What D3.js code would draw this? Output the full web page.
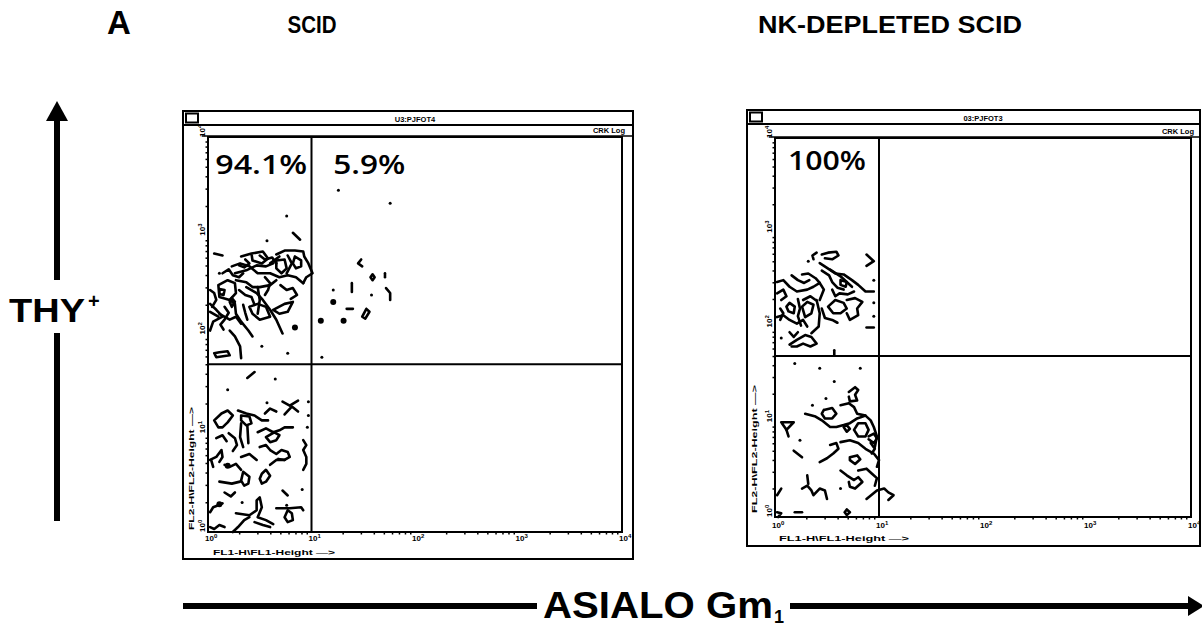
<!DOCTYPE html>
<html><head><meta charset="utf-8">
<script src="https://cdn.jsdelivr.net/npm/d3@7"></script>
<style>
body{margin:0;background:#fff;}
svg{display:block;}
</style></head><body>
<svg id="c" width="1202" height="629"></svg>
<script>
// ---------------- DATA (log10 units: FL1 = x, FL2 = y) ----------------
const panelTitles = ["SCID", "NK-DEPLETED SCID"];
const windowTitles = ["U3:PJFOT4", "03:PJFOT3"];
const scidPercents = ["94.1%", "5.9%"];
const nkPercents = ["100%"];
const decadeTicks = [0, 1, 2, 3, 4];
const tickExponents = ["0", "1", "2", "3", "4"];
const quadrantGate = [1.0, 1.7];

const scidContours = [
 [[0.06,2.82],[0.14,2.80]],
 [[0.32,2.79],[0.42,2.82],[0.53,2.84],[0.58,2.77],[0.52,2.72],[0.43,2.75],[0.42,2.82]],
 [[0.66,2.81],[0.74,2.85],[0.84,2.85],[0.92,2.84],[0.93,2.79],[0.97,2.72],[1.01,2.62],[0.95,2.58],[0.92,2.52]],
 [[0.84,2.79],[0.90,2.75],[0.90,2.69],[0.85,2.67],[0.82,2.72],[0.84,2.79]],
 [[0.66,2.75],[0.74,2.76],[0.76,2.67],[0.71,2.62],[0.66,2.67],[0.66,2.75]],
 [[0.60,2.72],[0.69,2.79]],
 [[0.77,2.80],[0.81,2.72],[0.76,2.62]],
 [[0.23,2.69],[0.31,2.72],[0.40,2.69],[0.48,2.62],[0.60,2.62],[0.69,2.58],[0.77,2.60],[0.85,2.58],[0.92,2.52]],
 [[0.26,2.62],[0.37,2.65],[0.47,2.70],[0.56,2.69],[0.63,2.72]],
 [[0.10,2.50],[0.19,2.55],[0.26,2.52],[0.27,2.42],[0.21,2.35],[0.11,2.38],[0.10,2.50]],
 [[0.11,2.46],[0.16,2.45],[0.15,2.40],[0.11,2.41],[0.11,2.46]],
 [[0.27,2.55],[0.37,2.53],[0.43,2.48],[0.50,2.48],[0.60,2.50],[0.66,2.55]],
 [[0.02,2.31],[0.08,2.25],[0.14,2.18],[0.05,2.13],[0.02,2.04]],
 [[0.21,2.35],[0.26,2.31],[0.27,2.21],[0.32,2.13],[0.39,2.04],[0.43,1.98]],
 [[0.37,2.48],[0.47,2.42],[0.53,2.35],[0.60,2.25],[0.66,2.15],[0.72,2.01]],
 [[0.63,2.25],[0.74,2.31],[0.82,2.33],[0.77,2.23],[0.69,2.21],[0.63,2.25]],
 [[0.21,2.04],[0.26,1.98],[0.31,1.88],[0.32,1.76]],
 [[0.06,1.81],[0.11,1.82],[0.19,1.83],[0.21,1.79],[0.08,1.77],[0.06,1.81]],
 [[0.11,2.21],[0.21,2.15],[0.27,2.18],[0.32,2.11]],
 [[0.02,2.23],[0.10,2.18]],
 [[0.40,2.28],[0.48,2.31],[0.56,2.28],[0.60,2.18],[0.50,2.15],[0.43,2.21],[0.40,2.28]],
 [[0.48,2.48],[0.50,2.35],[0.48,2.21]],
 [[0.23,2.37],[0.26,2.33],[0.23,2.28],[0.21,2.33],[0.23,2.37]],
 [[0.14,2.62],[0.20,2.66],[0.24,2.60],[0.30,2.58],[0.34,2.62]],
 [[0.02,2.45],[0.06,2.42],[0.08,2.35],[0.04,2.28]],
 [[0.30,2.45],[0.36,2.40],[0.42,2.38],[0.45,2.30]],
 [[0.55,2.58],[0.60,2.52],[0.58,2.45],[0.55,2.40]],
 [[0.70,2.50],[0.76,2.45],[0.82,2.47],[0.86,2.40],[0.80,2.36]],
 [[0.16,2.28],[0.20,2.22],[0.16,2.15],[0.12,2.10],[0.15,2.05]],
 [[0.34,2.30],[0.36,2.22],[0.38,2.15]],
 [[0.50,2.80],[0.55,2.76],[0.62,2.78],[0.66,2.72]],
 [[0.36,2.76],[0.40,2.72],[0.35,2.68],[0.30,2.70]],
 [[0.82,3.03],[0.89,2.96]],
 [[1.48,2.76],[1.45,2.72],[1.49,2.69]],
 [[1.57,2.58],[1.59,2.61],[1.61,2.58],[1.59,2.55],[1.57,2.58]],
 [[1.71,2.62],[1.71,2.58]],
 [[1.39,2.52],[1.39,2.43]],
 [[1.72,2.47],[1.76,2.42],[1.76,2.35]],
 [[1.34,2.26],[1.40,2.26]],
 [[1.53,2.26],[1.56,2.23],[1.52,2.16],[1.49,2.18],[1.53,2.26]],
 [[0.38,1.56],[0.45,1.62]],
 [[0.72,1.32],[0.79,1.28],[0.87,1.33]],
 [[0.74,1.19],[0.81,1.27],[0.87,1.22]],
 [[0.06,1.13],[0.13,1.20],[0.19,1.23],[0.24,1.18],[0.19,1.11],[0.14,1.06],[0.10,1.06],[0.06,1.13]],
 [[0.29,1.23],[0.37,1.20],[0.45,1.18],[0.52,1.13],[0.58,1.13]],
 [[0.32,1.18],[0.40,1.17],[0.42,1.10],[0.37,1.08],[0.32,1.13],[0.32,1.18]],
 [[0.32,1.10],[0.31,0.96],[0.34,0.86]],
 [[0.38,1.08],[0.39,0.90]],
 [[0.48,1.01],[0.56,1.05],[0.63,1.01],[0.69,1.03],[0.74,1.06],[0.82,1.06]],
 [[0.56,0.96],[0.60,0.91],[0.66,0.93],[0.69,0.98],[0.64,1.01],[0.56,0.96]],
 [[0.50,0.86],[0.56,0.88],[0.60,0.83],[0.66,0.79],[0.71,0.83],[0.77,0.81],[0.79,0.76],[0.74,0.73],[0.68,0.74]],
 [[0.92,0.93],[0.95,0.88],[0.92,0.83],[0.95,0.76],[0.95,0.69],[0.92,0.63]],
 [[0.02,0.73],[0.08,0.76],[0.13,0.83],[0.14,0.76],[0.11,0.71]],
 [[0.03,0.73],[0.05,0.66]],
 [[0.16,0.68],[0.21,0.66],[0.27,0.69],[0.32,0.63]],
 [[0.32,0.76],[0.40,0.79],[0.47,0.73]],
 [[0.34,0.61],[0.40,0.56],[0.39,0.49],[0.35,0.47],[0.32,0.52],[0.34,0.61]],
 [[0.11,0.51],[0.23,0.49],[0.31,0.51]],
 [[0.52,0.59],[0.56,0.63],[0.60,0.57],[0.56,0.51],[0.52,0.49],[0.50,0.54],[0.52,0.59]],
 [[0.60,0.68],[0.66,0.73],[0.74,0.73]],
 [[0.72,0.42],[0.77,0.37]],
 [[0.20,1.00],[0.26,0.95],[0.28,0.88],[0.24,0.82]],
 [[0.08,0.95],[0.14,0.98],[0.18,0.92]],
 [[0.16,0.40],[0.22,0.36],[0.26,0.40]],
 [[0.55,1.20],[0.60,1.25],[0.66,1.22]],
 [[0.02,0.20],[0.05,0.25],[0.10,0.27],[0.14,0.29]],
 [[0.27,0.19],[0.40,0.17],[0.47,0.22],[0.47,0.32],[0.50,0.35],[0.52,0.25],[0.48,0.15],[0.56,0.12],[0.63,0.08]],
 [[0.40,0.15],[0.35,0.12],[0.29,0.05],[0.24,0.00]],
 [[0.45,0.10],[0.53,0.07],[0.60,0.05]],
 [[0.66,0.24],[0.79,0.24],[0.90,0.25],[0.92,0.22]],
 [[0.77,0.22],[0.74,0.15],[0.77,0.10],[0.82,0.12],[0.81,0.19],[0.77,0.22]],
 [[0.02,0.05],[0.06,0.03],[0.11,0.07],[0.16,0.05]]
];
const scidEvents = [[0.11,2.62],[0.76,3.20],[0.57,2.95],[1.26,3.46],[1.76,3.33],[0.52,1.88],[0.77,1.81],[1.10,1.77],
 [1.21,2.45],[1.58,2.40],[0.65,1.55],[0.19,1.44],[0.57,1.31],[0.97,1.32],[0.97,1.18],[0.96,1.06],[0.91,0.43],[0.76,0.27],[0.33,0.30]];
const scidDense = [[1.21,2.33],[1.31,2.14],[1.09,2.14],[0.84,2.07],[0.19,0.67],[0.11,0.28]];

const nkContours = [
 [[0.40,2.79],[0.36,2.76],[0.37,2.72]],
 [[0.45,2.77],[0.51,2.79],[0.59,2.80],[0.61,2.76],[0.55,2.72],[0.48,2.73]],
 [[0.88,2.77],[0.95,2.70],[0.88,2.65]],
 [[0.43,2.68],[0.50,2.63],[0.58,2.57],[0.66,2.56],[0.74,2.50],[0.80,2.45],[0.87,2.38],[0.95,2.38]],
 [[0.53,2.61],[0.63,2.54],[0.69,2.48],[0.74,2.43]],
 [[0.63,2.50],[0.69,2.48],[0.68,2.43],[0.63,2.45],[0.63,2.50]],
 [[0.02,2.48],[0.08,2.50],[0.14,2.43],[0.21,2.38],[0.31,2.40],[0.37,2.43],[0.43,2.47]],
 [[0.26,2.56],[0.32,2.57],[0.39,2.52],[0.43,2.47],[0.47,2.40],[0.43,2.29]],
 [[0.02,2.36],[0.08,2.40],[0.11,2.33],[0.06,2.29]],
 [[0.11,2.22],[0.14,2.26],[0.19,2.22],[0.18,2.15],[0.13,2.17],[0.11,2.22]],
 [[0.26,2.22],[0.31,2.27],[0.37,2.24],[0.35,2.15],[0.29,2.11],[0.26,2.22]],
 [[0.27,2.29],[0.34,2.33],[0.39,2.29]],
 [[0.51,2.22],[0.58,2.29],[0.66,2.26],[0.69,2.20],[0.63,2.15],[0.56,2.15],[0.51,2.22]],
 [[0.69,2.29],[0.77,2.31],[0.84,2.27],[0.79,2.20],[0.80,2.13],[0.72,2.08],[0.69,2.15]],
 [[0.02,2.11],[0.08,2.13],[0.14,2.08],[0.21,2.04],[0.27,2.08],[0.31,2.01]],
 [[0.40,2.29],[0.43,2.15],[0.42,2.01],[0.35,1.94]],
 [[0.14,1.82],[0.21,1.87],[0.29,1.92],[0.35,1.90],[0.40,1.83],[0.34,1.80],[0.27,1.83],[0.21,1.80],[0.16,1.80]],
 [[0.16,2.55],[0.22,2.50],[0.28,2.47],[0.33,2.50]],
 [[0.05,2.20],[0.08,2.15],[0.05,2.08]],
 [[0.45,2.60],[0.52,2.55],[0.55,2.48],[0.60,2.42],[0.66,2.40]],
 [[0.22,2.30],[0.24,2.20],[0.22,2.12],[0.25,2.02]],
 [[0.55,2.40],[0.58,2.33],[0.62,2.36],[0.70,2.35],[0.76,2.38]],
 [[0.45,2.20],[0.48,2.10],[0.55,2.08],[0.60,2.05]],
 [[0.14,1.95],[0.18,1.90],[0.22,1.95]],
 [[0.88,2.00],[0.95,2.00]],
 [[0.57,1.76],[0.57,1.71]],
 [[0.71,1.32],[0.77,1.37],[0.80,1.34],[0.77,1.29],[0.79,1.23],[0.72,1.22],[0.71,1.27]],
 [[0.47,1.13],[0.55,1.15],[0.59,1.09],[0.55,1.04],[0.48,1.04],[0.45,1.09],[0.47,1.13]],
 [[0.29,1.09],[0.39,1.06],[0.45,1.02],[0.53,0.95],[0.59,0.95],[0.66,0.97],[0.72,0.99],[0.79,1.04],[0.87,1.07]],
 [[0.63,1.18],[0.71,1.20],[0.76,1.16],[0.79,1.09],[0.87,1.07],[0.92,1.02],[0.95,0.95],[0.98,0.85],[0.96,0.74]],
 [[0.76,0.92],[0.80,0.99],[0.87,0.99],[0.90,0.92],[0.87,0.85],[0.80,0.85],[0.76,0.92]],
 [[0.66,0.95],[0.69,0.97],[0.72,0.93],[0.69,0.90],[0.66,0.95]],
 [[0.06,1.00],[0.18,1.00],[0.11,0.92],[0.06,1.00]],
 [[0.11,0.92],[0.13,0.85]],
 [[0.18,0.70],[0.26,0.63]],
 [[0.53,0.76],[0.59,0.78],[0.61,0.72],[0.56,0.67],[0.50,0.62],[0.43,0.58]],
 [[0.63,0.79],[0.72,0.81],[0.80,0.78],[0.87,0.72],[0.95,0.67],[1.00,0.60],[0.98,0.53]],
 [[0.72,0.63],[0.79,0.65],[0.82,0.61],[0.77,0.56],[0.72,0.60],[0.72,0.63]],
 [[0.63,0.49],[0.69,0.44],[0.76,0.39],[0.80,0.42],[0.84,0.37],[0.77,0.30],[0.72,0.32],[0.71,0.37]],
 [[0.80,0.49],[0.88,0.51],[0.93,0.46],[0.98,0.41],[0.96,0.33]],
 [[0.31,0.44],[0.32,0.35]],
 [[0.26,0.30],[0.31,0.33],[0.35,0.28],[0.37,0.23],[0.43,0.30],[0.48,0.28],[0.50,0.19]],
 [[0.02,0.23],[0.06,0.30]],
 [[0.88,0.19],[0.98,0.28],[1.05,0.30],[1.09,0.26],[1.14,0.23],[1.09,0.18]],
 [[0.67,0.05],[0.69,0.08],[0.72,0.05],[0.69,0.02],[0.67,0.05]],
 [[0.19,0.05],[0.26,0.05]],
 [[0.02,0.05],[0.06,0.04],[0.03,0.00]],
 [[0.92,0.78],[0.96,0.72],[0.93,0.67]],
 [[0.90,0.85],[0.95,0.88],[0.98,0.83],[0.95,0.78],[0.90,0.82]]
];
const nkEvents = [[0.32,2.70],[0.06,1.89],[0.95,2.50],[0.95,2.26],[0.95,2.12],[0.19,1.62],[0.43,1.57],[0.82,1.57],
 [0.57,1.43],[0.49,1.25],[0.36,1.18],[0.24,0.81],[0.63,0.30]];
const nkDense = [];

// ---------------- LAYOUT ----------------
const svg = d3.select("#c");
const narrow = "'Liberation Sans Narrow','Arial Narrow','Liberation Sans',Arial,sans-serif";
const sans = "'Liberation Sans',Arial,Helvetica,sans-serif";

const panels = [
 {win:[183,111,633,559], plot:[208,137,622,532], title:windowTitles[0], contours:scidContours, events:scidEvents, dense:scidDense,
  pct:[{t:scidPercents[0], x:0.07, len:92}, {t:scidPercents[1], x:1.21, len:72}], pctDy:37,
  yLab:[194,530,123], xLab:[213,555,122], tickY:541},
 {win:[747,110,1200,546], plot:[775,138,1191,517], title:windowTitles[1], contours:nkContours, events:nkEvents, dense:nkDense,
  pct:[{t:nkPercents[0], x:0.125, len:78}], pctDy:32,
  yLab:[757,513,128], xLab:[779,541,130], tickY:528}
];

const minorTicks = d3.range(0,4).flatMap(d => d3.range(2,10).map(m => d + Math.log10(m)));

panels.forEach(p => {
  const [wx0, wy0, wx1, wy1] = p.win;
  const [px0, py0, px1, py1] = p.plot;
  const x = d3.scaleLinear().domain([0,4]).range([px0, px1]);
  const y = d3.scaleLinear().domain([0,4]).range([py1, py0]);
  const g = svg.append("g");

  // window frame
  g.append("rect").attr("x", wx0).attr("y", wy0).attr("width", wx1-wx0).attr("height", wy1-wy0)
    .attr("fill","none").attr("stroke","#000").attr("stroke-width",2);
  g.append("line").attr("x1", wx0).attr("x2", wx1).attr("y1", wy0+14).attr("y2", wy0+14)
    .attr("stroke","#000").attr("stroke-width",2);
  g.append("rect").attr("x", wx0+3).attr("y", wy0+2.5).attr("width", 12).attr("height", 9)
    .attr("fill","#fff").attr("stroke","#000").attr("stroke-width",2);
  g.append("text").attr("x", (px0+px1)/2).attr("y", wy0+10.5).attr("text-anchor","middle")
    .attr("font-family", sans).attr("font-weight","bold").attr("font-size",7.5).text(p.title);
  g.append("line").attr("x1", px0-6).attr("x2", wx1).attr("y1", py0-1).attr("y2", py0-1)
    .attr("stroke","#000").attr("stroke-width",1.5);
  g.append("text").attr("x", px1+3).attr("y", py0-4).attr("text-anchor","end")
    .attr("font-family", sans).attr("font-weight","bold").attr("font-size",7.5).text("CRK Log");

  // axes (minor ticks)
  g.append("g").attr("transform", `translate(${px0},0)`)
    .call(d3.axisLeft(y).tickValues(minorTicks).tickSize(2.5).tickFormat(""))
    .call(a => { a.select(".domain").remove(); a.selectAll("line").attr("stroke","#000").attr("stroke-width",1.5); });
  g.append("g").attr("transform", `translate(0,${py1})`)
    .call(d3.axisBottom(x).tickValues(minorTicks).tickSize(2.5).tickFormat(""))
    .call(a => { a.select(".domain").remove(); a.selectAll("line").attr("stroke","#000").attr("stroke-width",1.5); });

  // plot frame
  g.append("rect").attr("x", px0).attr("y", py0).attr("width", px1-px0).attr("height", py1-py0)
    .attr("fill","none").attr("stroke","#000").attr("stroke-width",2);

  // decade tick labels
  g.selectAll(".xt").data(decadeTicks).join("text")
    .attr("x", d => x(d)-3).attr("y", p.tickY)
    .attr("font-family", sans).attr("font-weight","bold").attr("font-size",8)
    .call(t => { t.append("tspan").text("10"); t.append("tspan").attr("dy",-3).attr("font-size",6).text((d,i)=>tickExponents[i]); });
  g.selectAll(".yt").data(decadeTicks).join("text")
    .attr("transform", d => `translate(${px0-3},${y(d)}) rotate(-90)`)
    .attr("font-family", sans).attr("font-weight","bold").attr("font-size",8)
    .call(t => { t.append("tspan").text("10"); t.append("tspan").attr("dy",-3).attr("font-size",6).text((d,i)=>tickExponents[i]); });

  // axis titles
  g.append("text").attr("transform", `translate(${p.yLab[0]},${p.yLab[1]}) rotate(-90)`)
    .attr("font-family", sans).attr("font-weight","bold").attr("font-size",8)
    .attr("textLength", p.yLab[2]).attr("lengthAdjust","spacingAndGlyphs").text("FL2-H\\FL2-Height \u2014>");
  g.append("text").attr("x", p.xLab[0]).attr("y", p.xLab[1])
    .attr("font-family", sans).attr("font-weight","bold").attr("font-size",8)
    .attr("textLength", p.xLab[2]).attr("lengthAdjust","spacingAndGlyphs").text("FL1-H\\FL1-Height \u2014>");

  // quadrant gates
  g.append("line").attr("x1", x(quadrantGate[0])).attr("x2", x(quadrantGate[0])).attr("y1", py0).attr("y2", py1)
    .attr("stroke","#000").attr("stroke-width",2);
  g.append("line").attr("x1", px0).attr("x2", px1).attr("y1", y(quadrantGate[1])).attr("y2", y(quadrantGate[1]))
    .attr("stroke","#000").attr("stroke-width",2);

  // contours
  const line = d3.line().x(d => x(d[0])).y(d => y(d[1]));
  g.append("g").selectAll("path").data(p.contours).join("path")
    .attr("d", line).attr("fill","none").attr("stroke","#000").attr("stroke-width",2.6)
    .attr("stroke-linejoin","round").attr("stroke-linecap","round");
  g.append("g").selectAll("circle").data(p.events).join("circle")
    .attr("cx", d => x(d[0])).attr("cy", d => y(d[1])).attr("r",1.5).attr("fill","#000");
  g.append("g").selectAll("circle").data(p.dense).join("circle")
    .attr("cx", d => x(d[0])).attr("cy", d => y(d[1])).attr("r",3).attr("fill","#000");

  // percentages
  g.selectAll(".pct").data(p.pct).join("text")
    .attr("x", d => x(d.x)).attr("y", py0 + p.pctDy)
    .attr("font-family","'Open Sans','DejaVu Sans',sans-serif").attr("font-weight",600).attr("font-size",27)
    .attr("textLength", d => d.len).attr("lengthAdjust","spacingAndGlyphs").text(d => d.t);
});

// ---------------- FIGURE LABELS ----------------
svg.append("text").attr("x",107).attr("y",34).attr("font-family",sans).attr("font-weight","bold")
  .attr("font-size",33).text("A");
svg.selectAll(".ptitle").data(panelTitles).join("text")
  .attr("x",(d,i)=>[312,890][i]).attr("y",33).attr("text-anchor","middle")
  .attr("font-family",narrow).attr("font-weight","bold").attr("font-size",24)
  .attr("textLength",(d,i)=>[49,264][i]).attr("lengthAdjust","spacingAndGlyphs").text(d=>d);

// vertical THY+ arrow
svg.append("line").attr("x1",57).attr("x2",57).attr("y1",118).attr("y2",280).attr("stroke","#000").attr("stroke-width",6);
svg.append("line").attr("x1",57).attr("x2",57).attr("y1",333).attr("y2",521).attr("stroke","#000").attr("stroke-width",6);
svg.append("path").attr("d","M57,101 L68,121 L46,121 Z").attr("fill","#000");
const thy = svg.append("text").attr("x",9).attr("y",322).attr("font-family",sans).attr("font-weight","bold").attr("font-size",34);
thy.append("tspan").attr("textLength",76).attr("lengthAdjust","spacingAndGlyphs").text("THY");
thy.append("tspan").attr("dx",3).attr("dy",-14).attr("font-size",20).text("+");

// horizontal ASIALO Gm1 arrow
svg.append("line").attr("x1",183).attr("x2",537).attr("y1",606).attr("y2",606).attr("stroke","#000").attr("stroke-width",6);
svg.append("line").attr("x1",790).attr("x2",1192).attr("y1",606).attr("y2",606).attr("stroke","#000").attr("stroke-width",6);
svg.append("path").attr("d","M1204,606 L1188,596 L1188,616 Z").attr("fill","#000");
const asl = svg.append("text").attr("x",543).attr("y",618).attr("font-family",narrow).attr("font-weight","bold").attr("font-size",37);
asl.append("tspan").attr("textLength",230).attr("lengthAdjust","spacingAndGlyphs").text("ASIALO Gm");
asl.append("tspan").attr("dx",1).attr("dy",5).attr("font-size",18).text("1");
</script>
</body></html>
